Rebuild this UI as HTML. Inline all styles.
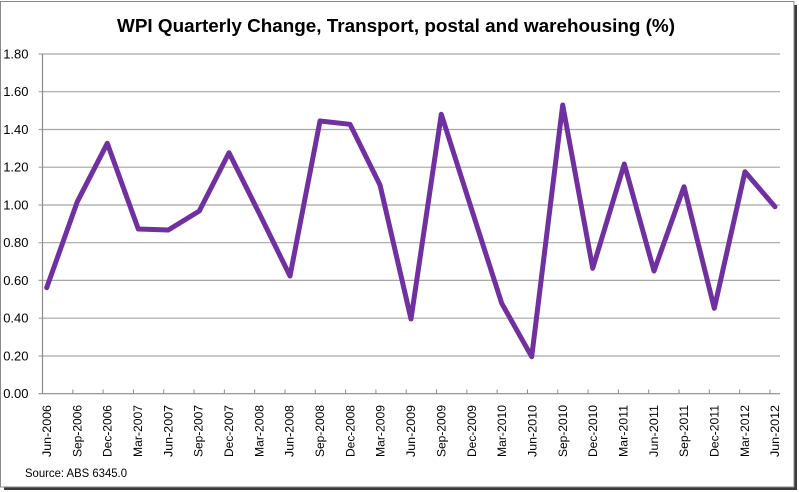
<!DOCTYPE html>
<html><head><meta charset="utf-8"><style>
html,body{margin:0;padding:0;background:#fff;}
svg{display:block;}
text{font-family:"Liberation Sans",Arial,sans-serif;fill:#000;}
</style></head><body>
<svg width="799" height="492" viewBox="0 0 799 492" xmlns="http://www.w3.org/2000/svg">
<rect x="0" y="0" width="799" height="492" fill="#fff"/>
<!-- shadow -->
<rect x="4" y="5" width="793" height="485" fill="#3a3a3a"/>
<rect x="0.5" y="1.5" width="793.5" height="485.5" fill="#fff" stroke="#8a8a8a" stroke-width="1"/>
<text x="396" y="32" text-anchor="middle" font-size="18" font-weight="bold" textLength="558" lengthAdjust="spacingAndGlyphs">WPI Quarterly Change, Transport, postal and warehousing (%)</text>
<g stroke="#a6a6a6" stroke-width="1.2">
<line x1="38.5" y1="54" x2="780" y2="54"/>
<line x1="38.5" y1="91.7" x2="780" y2="91.7"/>
<line x1="38.5" y1="129.5" x2="780" y2="129.5"/>
<line x1="38.5" y1="167.2" x2="780" y2="167.2"/>
<line x1="38.5" y1="205" x2="780" y2="205"/>
<line x1="38.5" y1="242.7" x2="780" y2="242.7"/>
<line x1="38.5" y1="280.4" x2="780" y2="280.4"/>
<line x1="38.5" y1="318.2" x2="780" y2="318.2"/>
<line x1="38.5" y1="356" x2="780" y2="356"/>
</g>
<g stroke="#8c8c8c" stroke-width="1.2">
<line x1="42.5" y1="54" x2="42.5" y2="394"/>
<line x1="38.5" y1="393.7" x2="780" y2="393.7"/>
</g>
<g stroke="#8c8c8c" stroke-width="1" id="ticks"></g>
<g font-size="13" text-anchor="end">
<text x="28.5" y="58.5">1.80</text>
<text x="28.5" y="96.2">1.60</text>
<text x="28.5" y="134">1.40</text>
<text x="28.5" y="171.7">1.20</text>
<text x="28.5" y="209.5">1.00</text>
<text x="28.5" y="247.2">0.80</text>
<text x="28.5" y="284.9">0.60</text>
<text x="28.5" y="322.7">0.40</text>
<text x="28.5" y="360.5">0.20</text>
<text x="28.5" y="398.2">0.00</text>
</g>
<polyline fill="none" stroke="#7030A0" stroke-width="5" stroke-linejoin="round" stroke-linecap="round"
points="46.7,287.7 77.3,201.7 107.3,143.3 138.3,229 168.3,230 199.3,211 229,152.7 259.7,214.3 290,276 320,121 350,124.3 380,185 411,319 441.3,114.3 471.5,209 501.7,303.3 531.7,356.7 562.7,105 592.7,268.3 624.3,164 654,271 684,186.7 714.3,308.3 745,171.7 775,206.7"/>
<g id="xl" font-size="12.2" text-anchor="end"></g>
<text x="25" y="477" font-size="12" textLength="102" lengthAdjust="spacingAndGlyphs">Source: ABS 6345.0</text>
<script>
(function(){
var ns="http://www.w3.org/2000/svg";
var t=document.getElementById("ticks");
for(var i=0;i<25;i++){
 var x=42.5+i*30.31;
 var l=document.createElementNS(ns,"line");
 l.setAttribute("x1",x);l.setAttribute("x2",x);l.setAttribute("y1",389.5);l.setAttribute("y2",394);
 t.appendChild(l);
}
var m=["Jun","Sep","Dec","Mar"];
var g=document.getElementById("xl");
for(var i=0;i<25;i++){
 var q=i%4; var yr=2006+Math.floor((i+1)/4);
 var lab=m[q]+"-"+yr;
 var x=46.7+i*30.34+4.3, y=405;
 var tx=document.createElementNS(ns,"text");
 tx.setAttribute("x",x);tx.setAttribute("y",y);
 tx.setAttribute("transform","rotate(-90 "+x+" "+y+")");
 tx.setAttribute("textLength","52");
 tx.setAttribute("lengthAdjust","spacingAndGlyphs");
 tx.textContent=lab;
 g.appendChild(tx);
}
})();
</script>
</svg>
</body></html>
